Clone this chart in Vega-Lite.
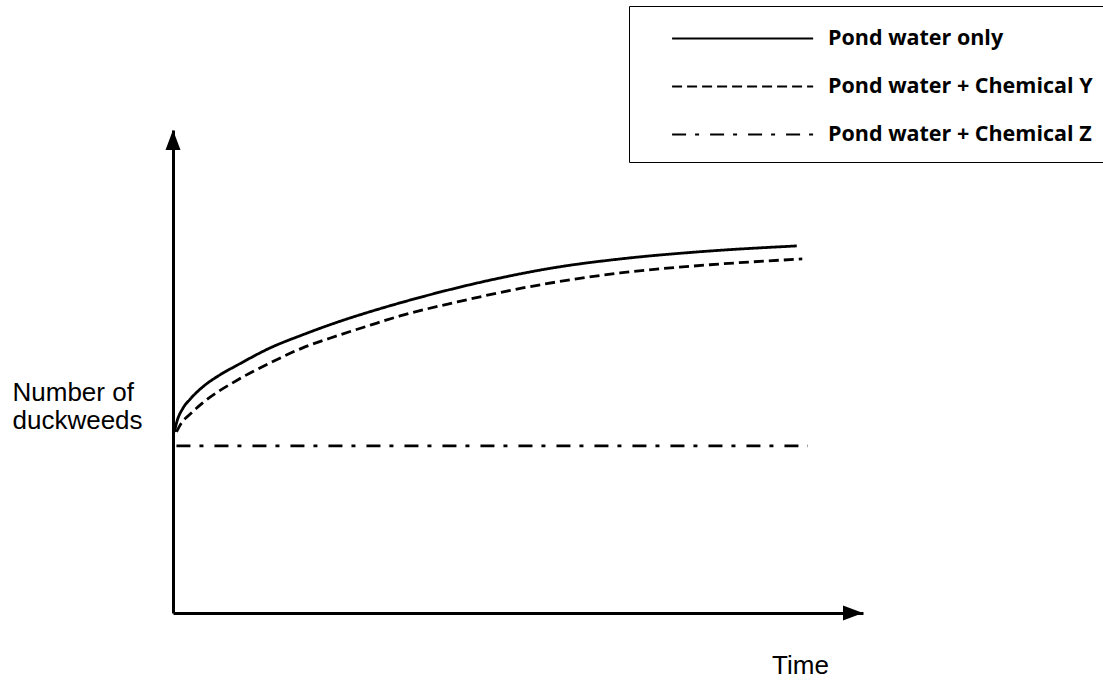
{
  "$schema": "https://vega.github.io/schema/vega-lite/v6.json",
  "width": 690,
  "height": 483,
  "autosize": "none",
  "padding": {"left": 173, "top": 130, "right": 240, "bottom": 69},
  "background": "white",
  "config": {
    "view": {"stroke": null},
    "axis": {"ticks": false, "labels": false, "grid": false, "domainColor": "black", "domainWidth": 3,
      "titleFont": "Liberation Sans", "titleFontSize": 26, "titleFontWeight": "normal", "titleColor": "black"}
  },
  "layer": [
    {
      "data": {"values": [
        {"series": "Pond water only", "t": 0.02, "n": 37.5},
        {"series": "Pond water only", "t": 0.06, "n": 39.8},
        {"series": "Pond water only", "t": 0.14, "n": 42.3},
        {"series": "Pond water only", "t": 0.25, "n": 44.3},
        {"series": "Pond water only", "t": 0.43, "n": 46.8},
        {"series": "Pond water only", "t": 0.68, "n": 49.3},
        {"series": "Pond water only", "t": 0.93, "n": 51.3},
        {"series": "Pond water only", "t": 1.41, "n": 54.9},
        {"series": "Pond water only", "t": 1.88, "n": 57.6},
        {"series": "Pond water only", "t": 2.38, "n": 60.2},
        {"series": "Pond water only", "t": 2.86, "n": 62.4},
        {"series": "Pond water only", "t": 3.29, "n": 64.2},
        {"series": "Pond water only", "t": 3.62, "n": 65.5},
        {"series": "Pond water only", "t": 4.59, "n": 68.9},
        {"series": "Pond water only", "t": 5.57, "n": 71.6},
        {"series": "Pond water only", "t": 6.48, "n": 73.3},
        {"series": "Pond water only", "t": 7.64, "n": 74.8},
        {"series": "Pond water only", "t": 9.04, "n": 76.0},
        {"series": "Pond water + Chemical Y", "t": 0.05, "n": 37.5},
        {"series": "Pond water + Chemical Y", "t": 0.12, "n": 39.3},
        {"series": "Pond water + Chemical Y", "t": 0.25, "n": 41.2},
        {"series": "Pond water + Chemical Y", "t": 0.43, "n": 43.5},
        {"series": "Pond water + Chemical Y", "t": 0.93, "n": 48.2},
        {"series": "Pond water + Chemical Y", "t": 1.41, "n": 51.8},
        {"series": "Pond water + Chemical Y", "t": 1.88, "n": 54.9},
        {"series": "Pond water + Chemical Y", "t": 2.38, "n": 57.4},
        {"series": "Pond water + Chemical Y", "t": 2.86, "n": 59.6},
        {"series": "Pond water + Chemical Y", "t": 3.29, "n": 61.5},
        {"series": "Pond water + Chemical Y", "t": 4.12, "n": 64.4},
        {"series": "Pond water + Chemical Y", "t": 5.07, "n": 67.3},
        {"series": "Pond water + Chemical Y", "t": 6.48, "n": 70.4},
        {"series": "Pond water + Chemical Y", "t": 7.78, "n": 72.1},
        {"series": "Pond water + Chemical Y", "t": 9.12, "n": 73.3},
        {"series": "Pond water + Chemical Z", "t": 0.05, "n": 34.6},
        {"series": "Pond water + Chemical Z", "t": 9.2, "n": 34.6}
      ]},
      "mark": {"type": "line", "color": "black", "strokeWidth": 2.8, "interpolate": "monotone"},
      "encoding": {
        "x": {"field": "t", "type": "quantitative", "scale": {"domain": [0, 10], "nice": false, "zero": false},
          "axis": {"title": "Time", "titleX": 627, "titleY": 60, "titleAlign": "center", "titleBaseline": "alphabetic"}},
        "y": {"field": "n", "type": "quantitative", "scale": {"domain": [0, 100], "nice": false, "zero": false},
          "axis": {"title": ["Number of", "duckweeds"], "titleAngle": 0, "titleAlign": "left", "titleBaseline": "alphabetic",
            "titleX": -161, "titleY": 270, "titleLineHeight": 28}},
        "strokeDash": {"field": "series", "type": "nominal",
          "scale": {"domain": ["Pond water only", "Pond water + Chemical Y", "Pond water + Chemical Z"],
            "range": [[1, 0], [10, 5], [14, 9, 4, 11]]},
          "legend": {"title": null, "orient": "none", "legendX": 456, "legendY": -124,
            "padding": 17, "strokeColor": "black", "cornerRadius": 0,
            "symbolType": "M0.75,0H10.75", "symbolSize": 796, "symbolStrokeWidth": 2, "symbolStrokeColor": "black",
            "labelOffset": 151, "labelFont": "Open Sans", "labelFontSize": 21.5, "labelFontWeight": "bold",
            "labelColor": "black", "rowPadding": 22, "labelLimit": 400}}
      }
    },
    {
      "data": {"values": [{}]},
      "mark": {"type": "point", "shape": "M0,0L-0.6,1.6L0.6,1.6Z", "filled": true, "color": "black", "opacity": 1, "size": 625, "strokeWidth": 0},
      "encoding": {"x": {"datum": 0, "type": "quantitative"}, "y": {"datum": 100, "type": "quantitative"}}
    },
    {
      "data": {"values": [{}]},
      "mark": {"type": "point", "shape": "M0,0L-1.6,-0.6L-1.6,0.6Z", "filled": true, "color": "black", "opacity": 1, "size": 625, "strokeWidth": 0},
      "encoding": {"x": {"datum": 10, "type": "quantitative"}, "y": {"datum": 0, "type": "quantitative"}}
    }
  ]
}
